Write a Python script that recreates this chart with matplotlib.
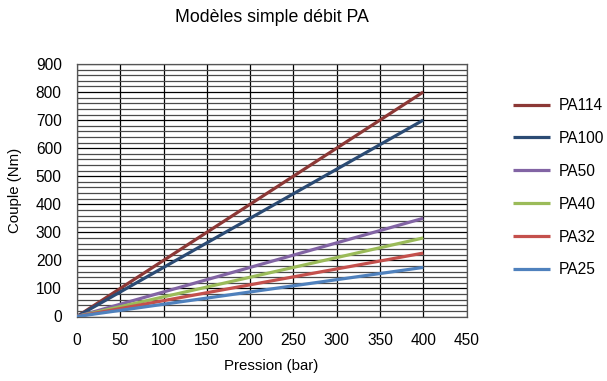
import matplotlib
matplotlib.use("Agg")
import matplotlib.pyplot as plt
from matplotlib.ticker import MultipleLocator

plt.rcParams['font.family'] = ['Liberation Sans', 'DejaVu Sans']

pression = [0, 400]
series_names = ["PA114", "PA100", "PA50", "PA40", "PA32", "PA25"]
couple_pa114 = [0, 800]
couple_pa100 = [0, 700]
couple_pa50 = [0, 350]
couple_pa40 = [0, 280]
couple_pa32 = [0, 226]
couple_pa25 = [0, 175]
colors = ["#8c3836", "#2b4b74", "#8264a4", "#9bbb59", "#c4504c", "#4f81bd"]

fig = plt.figure(figsize=(6.07, 3.81), dpi=100)
W, H = 607, 381
left, right, top, bottom = 77, 466.5, 64, 316.5
ax = fig.add_axes([left / W, 1 - bottom / H, (right - left) / W, (bottom - top) / H])

all_values = [couple_pa114, couple_pa100, couple_pa50, couple_pa40, couple_pa32, couple_pa25]
for name, vals, c in zip(series_names, all_values, colors):
    ax.plot(pression, vals, color=c, lw=2.3, label=name, solid_capstyle='butt', zorder=3)

ax.set_xlim(0, 450)
ax.set_ylim(0, 900)
ax.xaxis.set_major_locator(MultipleLocator(50))
ax.yaxis.set_major_locator(MultipleLocator(100))
ax.yaxis.set_minor_locator(MultipleLocator(20))
ax.grid(True, which='major', axis='both', color='black', lw=0.9)
ax.grid(True, which='minor', axis='y', color='#4a4a4a', lw=0.9)
ax.set_axisbelow(True)
ax.tick_params(which='both', length=0, labelsize=11.2)
ax.tick_params(axis='y', pad=11)
ax.tick_params(axis='x', pad=12)
for s in ax.spines.values():
    s.set_color('#555555')
    s.set_linewidth(0.9)

fig.text(271.5 / W, 1 - 18 / H, "Modèles simple débit PA", ha='center', va='center', fontsize=12.8)
fig.text(271 / W, 1 - 366 / H, "Pression (bar)", ha='center', va='center', fontsize=10.8)
fig.text(15 / W, 1 - 190 / H, "Couple (Nm)", ha='center', va='center', rotation=90, fontsize=10.8)

leg = ax.legend(loc='upper left', bbox_to_anchor=(513 / W, 1 - 98 / H), bbox_transform=fig.transFigure,
                frameon=False, fontsize=11.2, handlelength=2.35, labelspacing=1.15,
                handletextpad=0.6, borderpad=0, borderaxespad=0)

fig.savefig("out.png", dpi=100)
